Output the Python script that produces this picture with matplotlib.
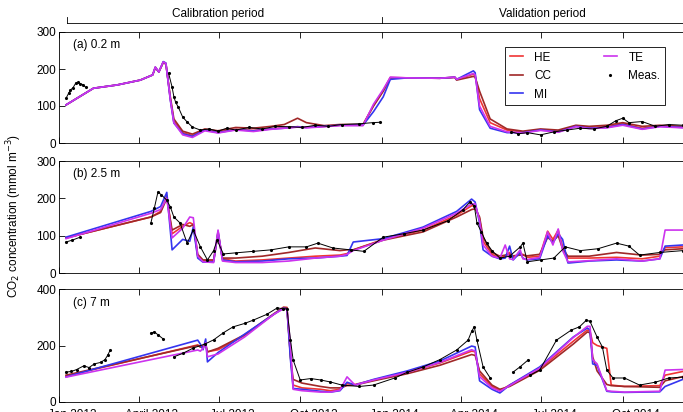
import matplotlib
matplotlib.use("Agg")
import matplotlib.pyplot as plt
import matplotlib.transforms as mtransforms
import numpy as np
import pandas as pd

plt.rcParams["font.family"] = ["Liberation Sans", "DejaVu Sans"]
plt.rcParams["font.size"] = 8.5

START = pd.Timestamp("2013-01-01")

# ---- panel (a) 0.2 m : model knots (days since 1 Jan 2013) ----
a_days = [8, 39, 66, 92, 106, 109, 113, 118, 121, 126, 130, 140, 151, 165, 180, 200,
          220, 240, 255, 262, 270, 280, 300, 318, 344, 356, 367, 375, 394, 431, 448,
          450, 469, 471, 476, 488, 507, 525, 545, 565, 585, 600, 620, 638, 660, 680,
          706, 725]
a_he = [103, 148, 157, 170, 184, 205, 192, 219, 215, 120, 58, 28, 20, 36, 30, 37,
        34, 39, 41, 43, 44, 43, 45, 48, 48, 102, 142, 177, 176, 175, 178,
        172, 186, 182, 120, 55, 35, 30, 36, 32, 46, 42, 44, 52, 40, 46,
        43, 46]
a_cc = [103, 148, 157, 170, 184, 203, 192, 217, 213, 125, 65, 32, 24, 38, 33, 42,
        40, 45, 50, 58, 67, 55, 47, 50, 50, 100, 140, 176, 176, 175, 177,
        170, 180, 178, 140, 65, 38, 32, 38, 35, 48, 45, 48, 55, 45, 48,
        45, 48]
a_mi = [103, 148, 157, 170, 184, 205, 192, 220, 216, 116, 54, 25, 18, 35, 28, 36,
        33, 38, 40, 42, 44, 42, 45, 48, 48, 85, 125, 172, 176, 175, 178,
        172, 195, 190, 90, 40, 28, 28, 35, 30, 45, 40, 42, 50, 38, 45,
        42, 45]
a_te = [103, 148, 157, 170, 184, 205, 192, 219, 215, 118, 55, 22, 15, 33, 27, 35,
        31, 37, 40, 41, 43, 41, 44, 47, 47, 105, 145, 178, 176, 175, 178,
        172, 188, 184, 100, 45, 30, 27, 34, 29, 44, 39, 41, 48, 37, 44,
        41, 44]
a_meas_days = [8, 11, 13, 16, 19, 22, 24, 27, 30, np.nan,
               124, 128, 130, 132, 135, 140, 145, 151, 160, 170, 180, 190, 200, 215,
               230, 245, 260, 275, 290, 305, 320, 340, 355, 363, np.nan,
               512, 520, 530, 545, 560, 575, 590, 605, 620, 630, 638, 645, 660, 675,
               690, 706, 725]
a_meas = [121, 135, 143, 150, 162, 164, 160, 158, 151, np.nan,
          189, 151, 125, 110, 97, 70, 57, 43, 35, 38, 32, 40, 35, 42,
          38, 45, 44, 42, 48, 45, 50, 52, 55, 56, np.nan,
          30, 25, 28, 22, 30, 35, 40, 38, 45, 60, 67, 55, 58, 45,
          50, 48, 45]

# ---- panel (b) 2.5 m ----
b_days = [8, 104, 115, 122, 128, 140, 148, 152, 157, 163, 175, 180, 185, 200, 230,
          260, 290, 318, 326, 333, 367, 412, 450, 467, 471, 476, 480, 490, 499, 505,
          510, 514, 522, 525, 530, 544, 553, 559, 565, 570, 576, 578, 600, 631, 660,
          680, 686, 706, 725]
b_he = [94, 150, 165, 205, 105, 125, 135, 130, 45, 32, 32, 110, 38, 32, 35,
        40, 45, 48, 52, 62, 90, 115, 155, 180, 180, 145, 85, 50, 40, 45,
        55, 42, 50, 50, 42, 45, 112, 90, 115, 70, 40, 40, 40, 42, 38,
        45, 68, 70, 72]
b_cc = [94, 150, 162, 200, 115, 130, 125, 130, 50, 35, 35, 105, 40, 40, 45,
        55, 67, 60, 62, 62, 88, 110, 150, 170, 172, 150, 95, 55, 45, 48,
        50, 46, 48, 48, 46, 50, 95, 85, 100, 65, 45, 45, 45, 55, 48,
        50, 62, 65, 68]
b_mi = [96, 165, 178, 216, 62, 90, 85, 123, 40, 29, 30, 112, 35, 30, 32,
        38, 40, 45, 47, 83, 92, 123, 165, 198, 190, 134, 62, 45, 38, 40,
        72, 35, 55, 40, 35, 38, 100, 80, 105, 90, 27, 27, 32, 35, 32,
        38, 72, 75, 76]
b_te = [92, 160, 170, 200, 94, 120, 150, 148, 45, 30, 28, 115, 32, 28, 28,
        32, 40, 45, 50, 60, 88, 120, 160, 185, 185, 140, 75, 45, 40, 75,
        38, 36, 62, 38, 36, 42, 110, 75, 118, 60, 30, 30, 33, 38, 32,
        38, 115, 115, 115]
b_meas_days = [8, 15, 24, np.nan,
               104, 108, 112, 116, 122, 126, 130, 137, 145, 152, 160, 168, 175, 179,
               186, 200, 220, 240, 260, 280, 293, 310, 330, 345, 367, 390, 412, 440,
               457, 465, 470, 473, 478, 484, 490, 499, 510, 522, 525, 530, 545, 560,
               573, 590, 610, 631, 645, 657, 680, 706, 725]
b_meas = [83, 88, 96, np.nan,
          134, 175, 217, 209, 195, 177, 150, 134, 80, 115, 70, 35, 60, 88,
          51, 54, 58, 62, 70, 70, 80, 67, 62, 58, 96, 105, 115, 140,
          169, 190, 180, 134, 110, 80, 60, 40, 45, 70, 80, 30, 35, 40,
          70, 60, 65, 80, 72, 48, 55, 60, 62]

# ---- panel (c) 7 m ----
c_days = [8, 157, 160, 163, 166, 168, 180, 210, 243, 254, 258, 262, 265, 275, 296,
          307, 318, 326, 335, 356, 394, 431, 467, 471, 476, 490, 499, 510, 544, 582,
          598, 601, 604, 609, 620, 625, 640, 680, 686, 706, 725]
c_he = [92, 202, 195, 200, 205, 178, 185, 235, 310, 335, 335, 160, 60, 50, 45,
        40, 45, 65, 62, 78, 105, 138, 180, 178, 100, 55, 40, 60, 118, 215,
        255, 250, 210, 200, 190, 60, 55, 58, 95, 108, 112]
c_cc = [95, 200, 195, 195, 200, 177, 190, 238, 312, 335, 333, 160, 80, 67, 55,
        50, 50, 58, 60, 75, 100, 130, 168, 165, 110, 60, 45, 55, 112, 205,
        248, 245, 160, 110, 62, 58, 55, 52, 75, 90, 95]
c_mi = [89, 219, 205, 185, 223, 142, 175, 240, 310, 332, 330, 149, 48, 45, 38,
        35, 40, 70, 60, 80, 110, 145, 198, 195, 75, 45, 32, 60, 124, 230,
        262, 255, 135, 130, 38, 36, 34, 36, 55, 80, 85]
c_te = [88, 184, 180, 190, 210, 160, 170, 230, 310, 330, 328, 200, 45, 40, 35,
        35, 42, 89, 60, 78, 105, 140, 185, 180, 90, 50, 38, 58, 120, 228,
        268, 268, 150, 135, 40, 38, 35, 38, 113, 115, 115]
c_meas_days = [8, 14, 20, 28, 34, 40, 47, 52, 55, 58, np.nan,
               104, 108, 112, 118, np.nan,
               130, 140, 152, 165, 175, 186, 197, 210, 220, 235, 247, 254, 258,
               262, 265, 273, 285, 296, 307, 320, 340, 356, 380, 394, 412, 431,
               450, 463, 467, 470, 473, 480, 488, np.nan,
               514, 522, 531, np.nan,
               533, 544, 563, 580, 589, 597, 601, 609, 615, 620, 627, 640, 657,
               675, 690, 706, 725]
c_meas = [106, 108, 115, 128, 122, 135, 140, 150, 165, 184, np.nan,
          244, 248, 238, 223, np.nan,
          160, 172, 191, 205, 220, 245, 266, 278, 290, 310, 333, 330, 330,
          219, 149, 78, 83, 78, 71, 60, 55, 60, 85, 105, 124, 150,
          184, 219, 250, 266, 219, 124, 85, np.nan,
          106, 125, 149, np.nan,
          95, 113, 219, 255, 266, 290, 285, 230, 195, 113, 85, 85, 60,
          70, 85, 88, 88]

panels = [
    ("(a) 0.2 m", a_days, a_he, a_cc, a_mi, a_te, a_meas_days, a_meas, [0, 100, 200, 300], 300),
    ("(b) 2.5 m", b_days, b_he, b_cc, b_mi, b_te, b_meas_days, b_meas, [0, 100, 200, 300], 300),
    ("(c) 7 m", c_days, c_he, c_cc, c_mi, c_te, c_meas_days, c_meas, [0, 200, 400], 400),
]

tick_dates = pd.to_datetime(["2013-01-01", "2013-04-01", "2013-07-01", "2013-10-01",
                             "2014-01-01", "2014-04-01", "2014-07-01", "2014-10-01"])
tick_labels = ["Jan 2013", "April 2013", "Jul 2013", "Oct 2013",
               "Jan 2014", "Apr 2014", "Jul 2014", "Oct 2014"]

colors = {"HE": "#f03535", "CC": "#a02828", "MI": "#3535f0", "TE": "#cc33ee"}


def to_dates(days):
    return START + pd.to_timedelta(np.asarray(days, dtype=float), unit="D")


W, H = 683, 412
fig = plt.figure(figsize=(W / 100, H / 100), dpi=100)
left, right = 59 / W, 704 / W
boxes = [(32, 143), (161, 273), (289, 402)]  # pixel top / bottom of each panel
axes = []
for (top, bot) in boxes:
    ax = fig.add_axes([left, 1 - bot / H, right - left, (bot - top) / H])
    axes.append(ax)

xlim = (START, pd.Timestamp("2015-01-01"))
for ax, (label, d, he, cc, mi, te, md, mv, yt, ymax) in zip(axes, panels):
    x = to_dates(d)
    ax.plot(x, he, color=colors["HE"], lw=1.2, label="HE")
    ax.plot(x, cc, color=colors["CC"], lw=1.2, label="CC")
    ax.plot(x, mi, color=colors["MI"], lw=1.2, label="MI")
    ax.plot(x, te, color=colors["TE"], lw=1.2, label="TE")
    ax.plot(to_dates(md), mv, color="black", lw=0.7, marker=".", ms=2.5,
            label="Meas.")
    ax.set_xlim(*xlim)
    ax.set_ylim(0, ymax)
    ax.set_yticks(yt)
    ax.set_xticks(tick_dates)
    ax.set_xticklabels([])
    ax.tick_params(direction="in", top=True, right=True, length=4, width=0.6,
                   labelsize=8.5, pad=2)
    for s in ax.spines.values():
        s.set_linewidth(0.6)
    ax.text(14 / 645, 0.88, label, transform=ax.transAxes, ha="left", va="center",
            fontsize=8.5)

# bottom labels sit mid-month (offset from the ticks as in the original)
axb = axes[-1]
axb.set_xticks(tick_dates + pd.Timedelta(days=15), minor=True)
axb.set_xticklabels(tick_labels, minor=True)
axb.tick_params(axis="x", which="minor", length=0, pad=5, labelsize=8.5)

# legend in panel (a)
handles, labels = axes[0].get_legend_handles_labels()
leg = axes[0].legend(handles, labels, ncol=2, loc="upper left",
                     bbox_to_anchor=(0.682, 0.387, 0.267, 0.532), mode="expand",
                     fancybox=False, edgecolor="black", framealpha=1,
                     handlelength=1.1, handletextpad=1.0, labelspacing=0.55,
                     columnspacing=2.5, borderpad=0.4, fontsize=8.5)
leg.get_frame().set_linewidth(0.6)
for h in leg.get_lines():
    if h.get_label() == "Meas.":
        h.set_linestyle("none")

# calibration / validation bracket above panel (a)
ax0 = axes[0]
tr = mtransforms.blended_transform_factory(ax0.transData, ax0.transAxes)
x_start = START + pd.Timedelta(days=8.7)
x_mid = pd.Timestamp("2014-01-01")
x_end = pd.Timestamp("2015-01-01")
ax0.plot([x_start, x_end], [1.081, 1.081], color="black", lw=0.6, transform=tr,
         clip_on=False)
for xv in (x_start, x_mid):
    ax0.plot([xv, xv], [1.081, 1.135], color="black", lw=0.6, transform=tr,
             clip_on=False)
ax0.text(START + pd.Timedelta(days=180), 1.165, "Calibration period", transform=tr,
         ha="center", va="center", fontsize=8.5)
ax0.text(START + pd.Timedelta(days=547), 1.165, "Validation period", transform=tr,
         ha="center", va="center", fontsize=8.5)

fig.text(14 / W, 0.476, "CO$_2$ concentration (mmol m$^{-3}$)", rotation=90,
         ha="center", va="center", fontsize=8.5)

fig.savefig("out.png", dpi=100)
